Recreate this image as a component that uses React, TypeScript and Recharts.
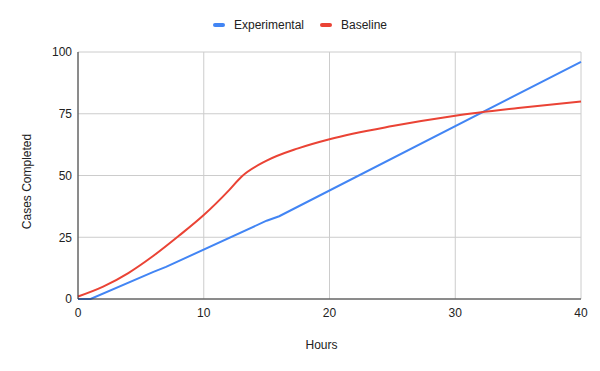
import { CartesianGrid, Legend, Line, LineChart, XAxis, YAxis } from "recharts";

const experimentalHours = [0, 1, 6, 7, 15, 16, 40];
const experimentalCases = [0, 0, 11, 13, 31.7, 33.5, 96];

const baselineHours = [0, 2, 4, 6, 8, 10, 12, 13, 15, 17.5, 20, 25, 30, 35, 40];
const baselineCases = [1, 5, 10.5, 17.5, 25.5, 34, 44, 49.5, 56, 61, 64.7, 70, 74.2, 77.3, 80];

const xTicks = [0, 10, 20, 30, 40];
const yTicks = [0, 25, 50, 75, 100];

const BLUE = "#4285f4";
const RED = "#ea4335";

const experimental = experimentalHours.map((h, i) => ({ hours: h, cases: experimentalCases[i] }));
const baseline = baselineHours.map((h, i) => ({ hours: h, cases: baselineCases[i] }));

const legendItems = [
  { name: "Experimental", color: BLUE },
  { name: "Baseline", color: RED },
];

const font = "Arial, 'Liberation Sans', sans-serif";

const RenderLegend = () => (
  <div style={{ display: "flex", justifyContent: "center", alignItems: "center", height: 14 }}>
    {legendItems.map((item, i) => (
      <div key={item.name} style={{ display: "flex", alignItems: "center", marginLeft: i ? 16 : 0 }}>
        <span
          style={{
            display: "inline-block",
            width: 12,
            height: 4,
            borderRadius: 2,
            background: item.color,
            marginRight: 9,
          }}
        />
        <span style={{ fontSize: 12, color: "#222", fontFamily: font }}>{item.name}</span>
      </div>
    ))}
  </div>
);

export default function App() {
  return (
    <div style={{ position: "absolute", left: 0, top: 0, background: "#fff" }}>
      <LineChart width={600} height={371} margin={{ top: 38, right: 19, bottom: 0, left: 0 }}>
        <CartesianGrid stroke="#cccccc" />
        <XAxis
          type="number"
          dataKey="hours"
          domain={[0, 40]}
          ticks={xTicks}
          height={72}
          tickLine={false}
          tickSize={6}
          tickMargin={3}
          stroke="#333"
          tick={{ fill: "#222", fontSize: 12, fontFamily: font }}
          label={{ value: "Hours", position: "insideBottom", offset: 22, dx: -8, fill: "#222", fontSize: 12, fontFamily: font }}
        />
        <YAxis
          type="number"
          domain={[0, 100]}
          ticks={yTicks}
          width={78}
          tickLine={false}
          tickSize={6}
          tickMargin={0}
          stroke="#333"
          tick={{ fill: "#222", fontSize: 12, fontFamily: font }}
          label={{
            value: "Cases Completed",
            angle: -90,
            position: "insideLeft",
            offset: 27,
            dy: 6,
            style: { textAnchor: "middle" },
            fill: "#222",
            fontSize: 12,
            fontFamily: font,
          }}
        />
        <Legend verticalAlign="top" content={<RenderLegend />} wrapperStyle={{ top: 18, left: 0, width: 600 }} />
        <Line
          data={experimental}
          dataKey="cases"
          name="Experimental"
          type="linear"
          stroke={BLUE}
          strokeWidth={2}
          dot={false}
          isAnimationActive={false}
        />
        <Line
          data={baseline}
          dataKey="cases"
          name="Baseline"
          type="monotone"
          stroke={RED}
          strokeWidth={2}
          dot={false}
          isAnimationActive={false}
        />
      </LineChart>
    </div>
  );
}
